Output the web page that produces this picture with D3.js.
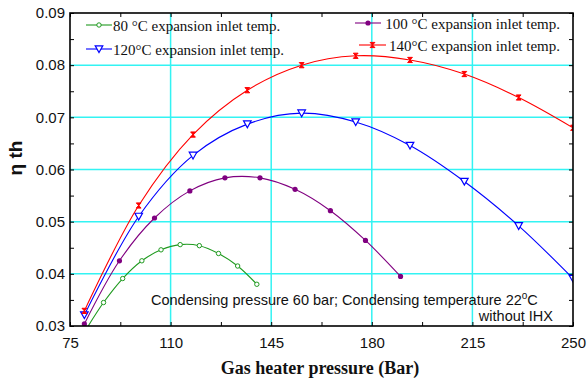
<!DOCTYPE html>
<html><head><meta charset="utf-8">
<script src="https://cdn.jsdelivr.net/npm/d3@7/dist/d3.min.js"></script>
<style>
html,body{margin:0;padding:0;background:#fff;}
svg{display:block;}
</style></head>
<body>
<svg id="chart" width="587" height="382"></svg>
<script>
// ---- data ----
const xMajorTicks = [75, 110, 145, 180, 215, 250];
const xMinorTicks = [92.5, 127.5, 162.5, 197.5, 232.5];
const yMajorTicks = [0.03, 0.04, 0.05, 0.06, 0.07, 0.08, 0.09];
const yMinorTicks = [0.035, 0.045, 0.055, 0.065, 0.075, 0.085];

const p80   = [80, 86.67, 93.33, 100, 106.67, 113.33, 120, 126.67, 133.33, 140];
const eta80 = [0.0288, 0.0345, 0.0391, 0.0425, 0.0446, 0.0456, 0.0454, 0.0439, 0.0415, 0.0380];

const p100   = [80, 92.2, 104.4, 116.7, 128.9, 141.1, 153.3, 165.6, 177.8, 190];
const eta100 = [0.0304, 0.0425, 0.0507, 0.0559, 0.0584, 0.0584, 0.0562, 0.0521, 0.0464, 0.0395];

const p120   = [80, 98.9, 117.8, 136.7, 155.6, 174.4, 193.3, 212.2, 231.1, 250];
const eta120 = [0.0321, 0.0510, 0.0627, 0.0687, 0.0708, 0.0691, 0.0646, 0.0577, 0.0492, 0.0391];

const p140   = [80, 98.9, 117.8, 136.7, 155.6, 174.4, 193.3, 212.2, 231.1, 250];
const eta140 = [0.0329, 0.0531, 0.0667, 0.0752, 0.0800, 0.0818, 0.0810, 0.0783, 0.0738, 0.0680];

const seriesNames = ["80 °C expansion inlet temp.", "100 °C expansion inlet temp.",
                     "120°C expansion inlet temp.", "140°C expansion inlet temp."];

// ---- layout ----
const L = 70, R = 573, T = 13, B = 326;
const svg = d3.select("#chart");
const x = d3.scaleLinear().domain([75, 250]).range([L, R]);
const y = d3.scaleLinear().domain([0.03, 0.09]).range([B, T]);

const series = [
  {name: seriesNames[0], p: p80,  v: eta80,  color: "#1f9a1f", marker: "circleOpen"},
  {name: seriesNames[1], p: p100, v: eta100, color: "#800080", marker: "circleFilled"},
  {name: seriesNames[2], p: p120, v: eta120, color: "#0000ff", marker: "triangle"},
  {name: seriesNames[3], p: p140, v: eta140, color: "#ff0000", marker: "hourglass"}
];

svg.append("defs").append("clipPath").attr("id", "clip")
  .append("rect").attr("x", L).attr("y", T).attr("width", R - L).attr("height", B - T);

// grid
const grid = svg.append("g");
grid.selectAll(".gx").data(xMajorTicks.slice(1, -1)).enter().append("line")
  .attr("x1", d => x(d)).attr("x2", d => x(d)).attr("y1", T).attr("y2", B)
  .attr("stroke", "#33f3f3").attr("stroke-width", 1.5);
grid.selectAll(".gy").data(yMajorTicks.slice(1, -1)).enter().append("line")
  .attr("y1", d => y(d)).attr("y2", d => y(d)).attr("x1", L).attr("x2", R)
  .attr("stroke", "#33f3f3").attr("stroke-width", 1.5);

// axes
const allX = xMajorTicks.concat(xMinorTicks);
const allY = yMajorTicks.concat(yMinorTicks);
const fmtX = d => xMajorTicks.includes(d) ? String(d) : "";
const fmtY = d => yMajorTicks.includes(d) ? d.toFixed(2) : "";

function styleAxis(g) {
  g.select(".domain").remove();
  g.selectAll("line").attr("stroke", "#000").attr("stroke-width", 1);
  g.selectAll("text").attr("font-family", "Liberation Sans, Arial, sans-serif")
    .attr("font-size", 15).attr("fill", "#111");
}
svg.append("g").attr("transform", `translate(0,${B})`)
  .call(d3.axisBottom(x).tickValues(allX).tickFormat(fmtX).tickSize(-4).tickPadding(11))
  .call(styleAxis);
svg.append("g").attr("transform", `translate(${L},0)`)
  .call(d3.axisLeft(y).tickValues(allY).tickFormat(fmtY).tickSize(-4).tickPadding(5))
  .call(styleAxis);
svg.append("g").attr("transform", `translate(0,${T})`)
  .call(d3.axisTop(x).tickValues(allX).tickFormat("").tickSize(-4))
  .call(styleAxis);
svg.append("g").attr("transform", `translate(${R},0)`)
  .call(d3.axisRight(y).tickValues(allY).tickFormat("").tickSize(-4))
  .call(styleAxis);

// curves
const line = d3.line().curve(d3.curveCatmullRom.alpha(0.5))
  .x(d => x(d[0])).y(d => y(d[1]));
const plot = svg.append("g").attr("clip-path", "url(#clip)");

function drawMarker(g, type, color) {
  if (type === "circleOpen") {
    g.append("circle").attr("r", 2.2).attr("fill", "#fff").attr("stroke", color).attr("stroke-width", 1);
  } else if (type === "circleFilled") {
    g.append("circle").attr("r", 2.6).attr("fill", color);
  } else if (type === "triangle") {
    g.append("path").attr("d", "M-3.8,-3.2L3.8,-3.2L0,3.6Z")
      .attr("fill", "#fff").attr("stroke", color).attr("stroke-width", 1.2);
  } else {
    g.append("path").attr("d", "M-2.4,-2.6L2.4,-2.6L-2.4,2.6L2.4,2.6Z")
      .attr("fill", color).attr("stroke", color).attr("stroke-width", 1);
  }
}

series.forEach(s => {
  const pts = s.p.map((p, i) => [p, s.v[i]]);
  plot.append("path").attr("d", line(pts)).attr("fill", "none")
    .attr("stroke", s.color).attr("stroke-width", 1.1);
  pts.forEach(d => {
    const g = plot.append("g").attr("transform", `translate(${x(d[0])},${y(d[1])})`);
    drawMarker(g, s.marker, s.color);
  });
});

// frame
svg.append("rect").attr("x", L).attr("y", T).attr("width", R - L).attr("height", B - T)
  .attr("fill", "none").attr("stroke", "#000").attr("stroke-width", 1.6);

// legend
const legendPos = [
  {x1: 86, x2: 112, y: 25, tx: 113, ty: 30.5, anchor: "start"},
  {x1: 355, x2: 381, y: 23, tx: 560, ty: 29.3, anchor: "end"},
  {x1: 86, x2: 112, y: 49, tx: 113, ty: 55, anchor: "start"},
  {x1: 359, x2: 386, y: 45, tx: 560, ty: 50.7, anchor: "end"}
];
series.forEach((s, i) => {
  const lp = legendPos[i];
  const g = svg.append("g");
  g.append("line").attr("x1", lp.x1).attr("x2", lp.x2).attr("y1", lp.y).attr("y2", lp.y)
    .attr("stroke", s.color).attr("stroke-width", 1.1);
  drawMarker(g.append("g").attr("transform", `translate(${(lp.x1 + lp.x2) / 2},${lp.y})`), s.marker, s.color);
  g.append("text").attr("x", lp.tx).attr("y", lp.ty).attr("text-anchor", lp.anchor)
    .attr("font-family", "Liberation Serif, Times New Roman, serif").attr("font-size", 15)
    .attr("fill", "#111").text(s.name);
});

// annotation
const ann = svg.append("text").attr("x", 151).attr("y", 305)
  .attr("font-family", "Liberation Sans, Arial, sans-serif").attr("font-size", 14.5).attr("fill", "#111");
ann.append("tspan").text("Condensing pressure 60 bar; Condensing temperature 22");
ann.append("tspan").attr("font-size", 10).attr("dy", -6).text("o");
ann.append("tspan").attr("dy", 6).text("C");
svg.append("text").attr("x", 553).attr("y", 320.5).attr("text-anchor", "end")
  .attr("font-family", "Liberation Sans, Arial, sans-serif").attr("font-size", 14.5).attr("fill", "#111")
  .text("without IHX");

// axis titles
svg.append("text").attr("x", 320).attr("y", 374).attr("text-anchor", "middle")
  .attr("font-family", "Liberation Serif, Times New Roman, serif").attr("font-size", 18)
  .attr("font-weight", "bold").attr("fill", "#111").text("Gas heater pressure (Bar)");
svg.append("text").attr("transform", "translate(22,158) rotate(-90)").attr("text-anchor", "middle")
  .attr("font-family", "Liberation Sans, Arial, sans-serif").attr("font-size", 19)
  .attr("font-weight", "bold").attr("fill", "#111").text("η th");
</script>
</body></html>
